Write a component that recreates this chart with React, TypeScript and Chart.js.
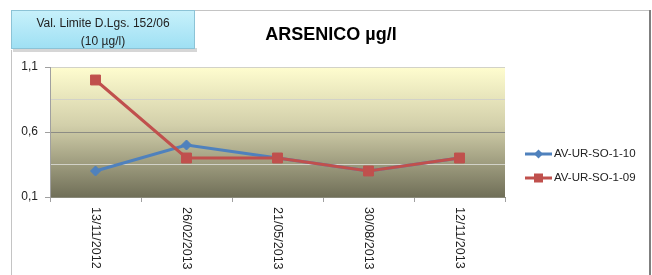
import React, { useEffect, useRef } from "react";
import { Chart, registerables } from "chart.js";

Chart.register(...registerables);

const categories = ["13/11/2012", "26/02/2013", "21/05/2013", "30/08/2013", "12/11/2013"];
const seriesBlue = [0.3, 0.5, 0.4, 0.3, 0.4];
const seriesRed = [1.0, 0.4, 0.4, 0.3, 0.4];
const seriesNames = ["AV-UR-SO-1-10", "AV-UR-SO-1-09"];
const yLabelValues = [0.1, 0.6, 1.1];
const titleText = "ARSENICO µg/l";
const boxLines = ["Val. Limite D.Lgs. 152/06", "(10 µg/l)"];

const BLUE = "#4F81BD";
const RED = "#C0504D";
const FONT = "'Liberation Sans', Arial, sans-serif";

const isMajor = (v: number) => yLabelValues.some((m) => Math.abs(m - v) < 1e-6);

const decorPlugin = {
  id: "decor",
  beforeDraw(chart: any) {
    const ctx = chart.ctx;
    const { left, right, top, bottom } = chart.chartArea;
    ctx.save();
    ctx.fillStyle = "#ffffff";
    ctx.fillRect(0, 0, chart.width, chart.height);
    // outer frame
    ctx.strokeStyle = "#c4c4c4";
    ctx.lineWidth = 1;
    ctx.beginPath();
    ctx.moveTo(11.5, 50);
    ctx.lineTo(11.5, 275);
    ctx.moveTo(195, 10.5);
    ctx.lineTo(649, 10.5);
    ctx.stroke();
    ctx.strokeStyle = "#7f7f7f";
    ctx.lineWidth = 2;
    ctx.beginPath();
    ctx.moveTo(650, 10);
    ctx.lineTo(650, 275);
    ctx.stroke();
    // plot gradient
    const g = ctx.createLinearGradient(0, top, 0, bottom);
    g.addColorStop(0, "#FFFDCF");
    g.addColorStop(0.45, "#D2CFAA");
    g.addColorStop(1, "#706F58");
    ctx.fillStyle = g;
    ctx.fillRect(left, top, right - left, bottom - top);
    // info box shadow
    ctx.fillStyle = "rgba(120,120,120,0.3)";
    ctx.fillRect(13, 48, 184, 4);
    const bg = ctx.createLinearGradient(0, 10, 0, 50);
    bg.addColorStop(0, "#C8F1FB");
    bg.addColorStop(1, "#9DDFF3");
    ctx.fillStyle = bg;
    ctx.fillRect(11, 10, 184, 39);
    ctx.strokeStyle = "#8CC3D6";
    ctx.lineWidth = 1;
    ctx.strokeRect(11.5, 10.5, 183, 38);
    ctx.fillStyle = "#222";
    ctx.font = `12px ${FONT}`;
    ctx.textAlign = "center";
    ctx.textBaseline = "middle";
    ctx.fillText(boxLines[0], 103, 24);
    ctx.fillText(boxLines[1], 103, 42);
    // title
    ctx.font = `bold 18px ${FONT}`;
    ctx.fillStyle = "#000";
    ctx.fillText(titleText, 331, 35);
    ctx.restore();
  },
  afterDraw(chart: any) {
    const ctx = chart.ctx;
    const xs = chart.scales.x;
    ctx.save();
    ctx.fillStyle = "#222";
    ctx.font = `12.5px ${FONT}`;
    ctx.textAlign = "left";
    ctx.textBaseline = "middle";
    categories.forEach((c, i) => {
      const x = xs.getPixelForValue(i);
      ctx.save();
      ctx.translate(x, 207);
      ctx.rotate(Math.PI / 2);
      ctx.fillText(c, 0, 0);
      ctx.restore();
    });
    // legend
    ctx.font = `11.5px ${FONT}`;
    const items = [
      { name: seriesNames[0], color: BLUE, y: 154, style: "diamond" },
      { name: seriesNames[1], color: RED, y: 178, style: "square" },
    ];
    items.forEach((it) => {
      ctx.strokeStyle = it.color;
      ctx.lineWidth = 3;
      ctx.beginPath();
      ctx.moveTo(525, it.y);
      ctx.lineTo(552, it.y);
      ctx.stroke();
      ctx.fillStyle = it.color;
      ctx.beginPath();
      if (it.style === "diamond") {
        ctx.moveTo(538.5, it.y - 4.5);
        ctx.lineTo(543, it.y);
        ctx.lineTo(538.5, it.y + 4.5);
        ctx.lineTo(534, it.y);
        ctx.closePath();
      } else {
        ctx.rect(534, it.y - 4.5, 9, 9);
      }
      ctx.fill();
      ctx.fillStyle = "#222";
      ctx.fillText(it.name, 554, it.y);
    });
    ctx.restore();
  },
};

export default function App() {
  const ref = useRef<HTMLCanvasElement>(null);
  useEffect(() => {
    if (!ref.current) return;
    const chart = new Chart(ref.current, {
      type: "line",
      data: {
        labels: categories,
        datasets: [
          {
            label: seriesNames[0],
            data: seriesBlue,
            borderColor: BLUE,
            backgroundColor: BLUE,
            borderWidth: 3,
            pointStyle: "rectRot",
            pointRadius: 5,
            pointBorderWidth: 1,
            pointBorderColor: BLUE,
            pointBackgroundColor: BLUE,
            tension: 0,
            order: 1,
          },
          {
            label: seriesNames[1],
            data: seriesRed,
            borderColor: RED,
            backgroundColor: RED,
            borderWidth: 3,
            pointStyle: "rect",
            pointRadius: 7,
            pointBorderWidth: 1,
            pointBorderColor: RED,
            pointBackgroundColor: RED,
            tension: 0,
            order: 0,
          },
        ],
      },
      plugins: [decorPlugin],
      options: {
        animation: false,
        responsive: true,
        maintainAspectRatio: false,
        layout: { padding: { left: 0, top: 67, right: 147, bottom: 0 } },
        plugins: { legend: { display: false }, title: { display: false }, tooltip: { enabled: false } },
        scales: {
          x: {
            type: "category",
            offset: true,
            grid: {
              offset: true,
              drawOnChartArea: false,
              drawTicks: true,
              tickLength: 5,
              tickColor: "#a0a0a0",
            },
            border: { color: "#8a8a7a" },
            ticks: { display: false },
            afterFit: (s: any) => {
              s.height = 78;
            },
          },
          y: {
            min: 0.1,
            max: 1.1,
            ticks: {
              stepSize: 0.25,
              color: "#222",
              font: { family: FONT, size: 12 },
              padding: 7,
              callback: (v: any) => (isMajor(Number(v)) ? Number(v).toFixed(1).replace(".", ",") : ""),
            },
            grid: {
              tickLength: 5,
              color: (c: any) => {
                const v = c.tick ? c.tick.value : 0;
                if (Math.abs(v - 0.6) < 1e-6) return "#8c8c84";
                if (Math.abs(v - 0.1) < 1e-6) return "rgba(0,0,0,0)";
                return "#d2d2c8";
              },
              tickColor: (c: any) => (c.tick && isMajor(c.tick.value) ? "#a0a0a0" : "rgba(0,0,0,0)"),
            },
            border: { color: "#a0a0a0" },
            afterFit: (s: any) => {
              s.width = 50;
            },
          },
        },
      },
    });
    return () => chart.destroy();
  }, []);
  return (
    <div style={{ position: "absolute", left: 0, top: 0, width: 652, height: 275, background: "#fff" }}>
      <canvas ref={ref} />
    </div>
  );
}
